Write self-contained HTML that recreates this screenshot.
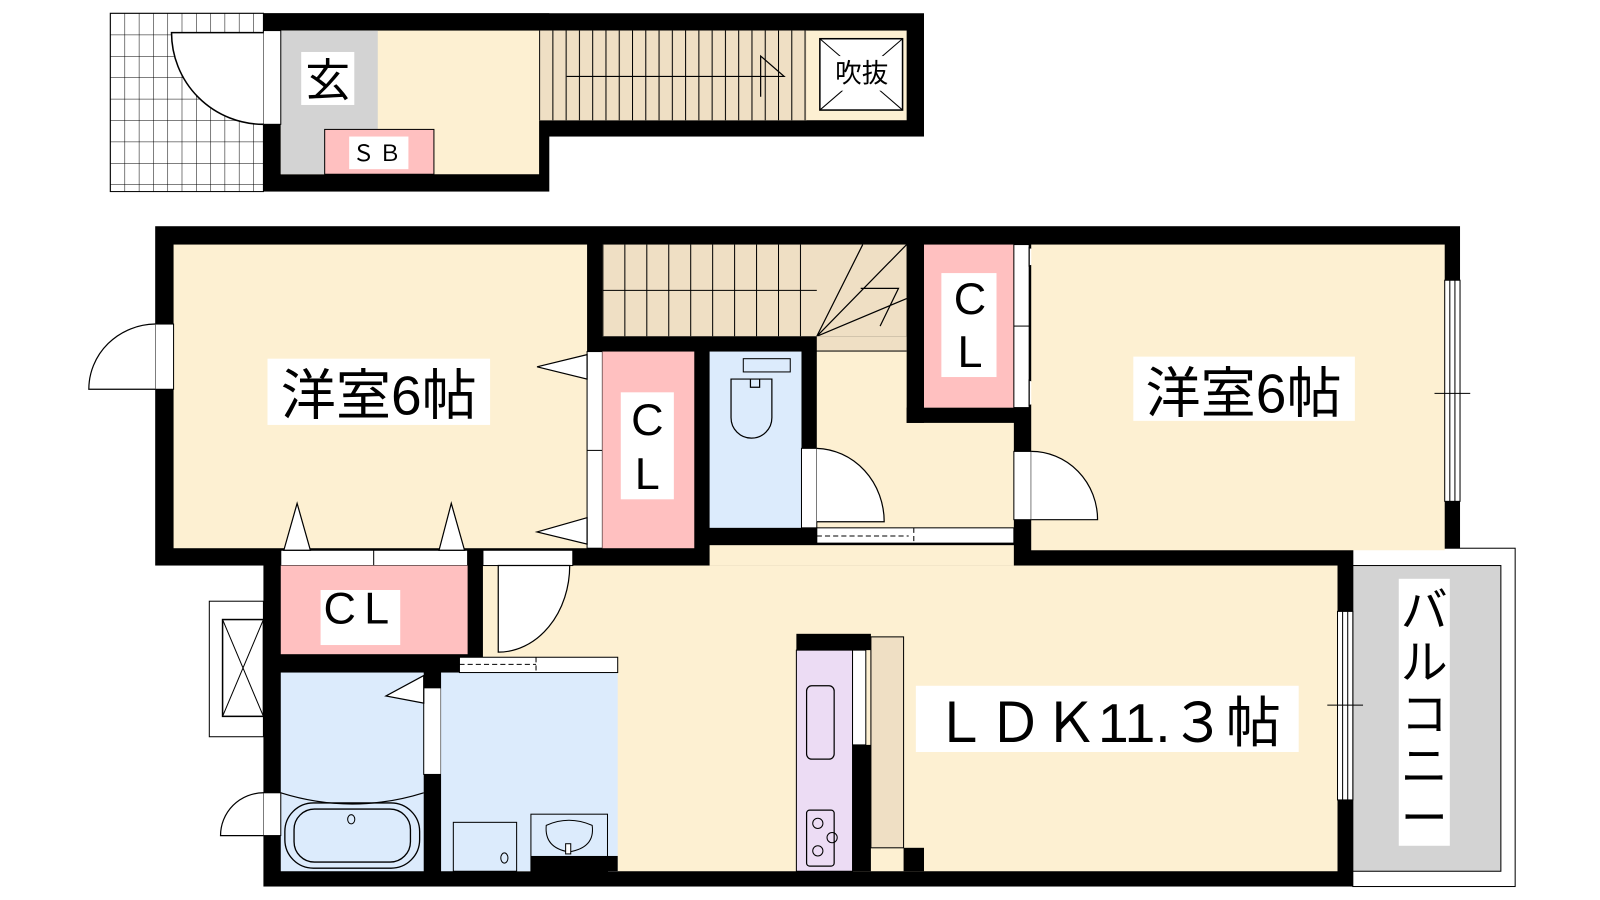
<!DOCTYPE html>
<html><head><meta charset="utf-8"><style>
html,body{margin:0;padding:0;background:#fff;width:1600px;height:900px;overflow:hidden}
svg{display:block}
text{font-family:"Liberation Sans","Noto Sans CJK JP",sans-serif;fill:#000}
</style></head><body>
<svg width="1600" height="900" viewBox="0 0 1600 900" xmlns="http://www.w3.org/2000/svg">
<defs>
<pattern id="grid" x="108" y="13" width="14" height="21" patternUnits="userSpaceOnUse">
<rect width="14" height="21" fill="#fff"/><path d="M0 0V21M0 0H14" stroke="#000" stroke-width="1"/>
</pattern>
<pattern id="stair" x="528" y="0" width="13" height="10" patternUnits="userSpaceOnUse">
<path d="M0.5 0V10" stroke="#000" stroke-width="1"/>
</pattern>
<pattern id="stair2" x="590" y="0" width="21.5" height="10" patternUnits="userSpaceOnUse">
<path d="M0.5 0V10" stroke="#000" stroke-width="1"/>
</pattern>
</defs>
<g transform="scale(1.021,1.019)">
<rect x="108" y="13" width="150" height="175" fill="url(#grid)" stroke="#000"/>
<rect x="258" y="13" width="647" height="121" fill="#000"/>
<rect x="258" y="13" width="280" height="175" fill="#000"/>
<rect x="275" y="30" width="253" height="141" fill="#fdf0d2"/>
<rect x="528" y="30" width="360" height="88" fill="#fdf0d2"/>
<rect x="275" y="30" width="95" height="141" fill="#d3d3d3"/>
<rect x="318" y="127" width="107" height="44" fill="#ffc0c0" stroke="#000"/>
<rect x="342" y="134" width="58" height="32" fill="#fff"/>
<text x="371" y="158" font-size="22" text-anchor="middle" letter-spacing="4">ＳＢ</text>
<rect x="295" y="51" width="52" height="52" fill="#fff"/>
<text x="321" y="94" font-size="44" text-anchor="middle">玄</text>
<rect x="528" y="30" width="262" height="88" fill="#efdfc4"/>
<rect x="528" y="30" width="262" height="88" fill="url(#stair)"/>
<path d="M555 75H768L745 55V95" fill="none" stroke="#000" stroke-width="1.2"/>
<rect x="803" y="38" width="81" height="70" fill="#fff" stroke="#000" stroke-width="1.5"/>
<path d="M803 38L884 108M884 38L803 108" stroke="#000"/>
<rect x="812" y="55" width="64" height="34" fill="#fff"/>
<text x="844" y="81" font-size="26" text-anchor="middle">吹抜</text>
<rect x="258" y="30" width="17" height="92" fill="#fff" stroke="#000"/>
<path d="M258 122A90 90 0 0 1 168 32H258" fill="#fff" stroke="#000" stroke-width="1.5"/>

<rect x="152" y="222" width="1278" height="333" fill="#000"/>
<rect x="258" y="540" width="1067" height="330" fill="#000"/>
<rect x="1325" y="538" width="159" height="332" fill="#fff" stroke="#000"/>
<rect x="1325" y="555" width="145" height="300" fill="#d3d3d3" stroke="#000"/>
<rect x="170" y="240" width="405" height="298" fill="#fdf0d2"/>
<rect x="590" y="240" width="298" height="90" fill="#efdfc4"/>
<rect x="590" y="240" width="210" height="90" fill="url(#stair2)"/>
<path d="M590 285H800" stroke="#000"/>
<path d="M800 330L845 240M800 330L888 240M800 330L888 293M843 283H880L862 320" fill="none" stroke="#000" stroke-width="1.2"/>
<rect x="800" y="330" width="88" height="14" fill="#efdfc4"/>
<rect x="800" y="345" width="193" height="173" fill="#fdf0d2"/>
<rect x="888" y="330" width="105" height="70" fill="#fdf0d2"/>
<rect x="888" y="240" width="17" height="175" fill="#000"/>
<rect x="888" y="400" width="122" height="15" fill="#000"/>
<rect x="575" y="345" width="15" height="193" fill="#fff" stroke="#000"/>
<path d="M575 442H590" stroke="#000"/>
<rect x="590" y="345" width="90" height="193" fill="#ffc0c0"/>
<rect x="608" y="385" width="52" height="105" fill="#fff"/>
<text x="634" y="427" font-size="44" text-anchor="middle">C</text>
<text x="634" y="480" font-size="44" text-anchor="middle">L</text>
<path d="M575 348L526 360L575 372Z M575 508L526 522L575 534Z" fill="#fff" stroke="#000" stroke-width="1.2"/>
<rect x="695" y="345" width="90" height="173" fill="#dcebfc"/>
<rect x="728" y="352" width="46" height="13" fill="#dcebfc" stroke="#000"/>
<path d="M716 372H756V410A20 20 0 0 1 716 410Z M735 372V380H744V372" fill="#dcebfc" stroke="#000" stroke-width="1.2"/>
<rect x="785" y="440" width="15" height="78" fill="#fff" stroke="#000"/>
<path d="M800 440A68 72 0 0 1 866 512H800" fill="#fff" stroke="#000" stroke-width="1.2"/>
<rect x="800" y="518" width="193" height="15" fill="#fff" stroke="#000"/>
<path d="M800 526H890M895 518V533" stroke="#000" stroke-dasharray="5 3"/>
<rect x="905" y="240" width="88" height="160" fill="#ffc0c0"/>
<rect x="922" y="268" width="54" height="102" fill="#fff"/>
<text x="950" y="308" font-size="44" text-anchor="middle">C</text>
<text x="950" y="360" font-size="44" text-anchor="middle">L</text>
<rect x="993" y="240" width="15" height="160" fill="#fff" stroke="#000"/>
<path d="M993 320H1008" stroke="#000"/>
<path d="M1008 243L1050 252L1008 261Z M1008 373L1050 386L1008 398Z" fill="#fff" stroke="#000" stroke-width="1.2"/>
<rect x="1010" y="240" width="405" height="300" fill="#fdf0d2"/>
<rect x="993" y="443" width="17" height="67" fill="#fff" stroke="#000"/>
<path d="M1010 443A65 67 0 0 1 1075 510H1010" fill="#fff" stroke="#000" stroke-width="1.2"/>
<rect x="1415" y="275" width="15" height="217" fill="#fff" stroke="#000"/>
<path d="M1420 275V492M1425 275V492M1405 386H1440" stroke="#000"/>
<rect x="473" y="555" width="837" height="300" fill="#fdf0d2"/>
<rect x="695" y="535" width="298" height="20" fill="#fdf0d2"/>
<rect x="1310" y="600" width="15" height="185" fill="#fff" stroke="#000"/>
<path d="M1315 600V785M1320 600V785M1300 692H1335" stroke="#000"/>
<rect x="853" y="625" width="32" height="207" fill="#efdfc4" stroke="#000"/>
<rect x="780" y="622" width="73" height="16" fill="#000"/>
<rect x="780" y="638" width="55" height="217" fill="#ecdcf4" stroke="#000"/>
<rect x="835" y="638" width="13" height="93" fill="#fff" stroke="#000"/>
<rect x="835" y="731" width="18" height="124" fill="#000"/>
<rect x="885" y="832" width="20" height="23" fill="#000"/>
<rect x="790" y="673" width="27" height="72" rx="5" fill="none" stroke="#000" stroke-width="1.2"/>
<rect x="790" y="795" width="27" height="55" rx="3" fill="none" stroke="#000" stroke-width="1.2"/>
<circle cx="801" cy="808" r="5" fill="none" stroke="#000"/><circle cx="815" cy="822" r="5" fill="none" stroke="#000"/><circle cx="801" cy="835" r="5" fill="none" stroke="#000"/>
<rect x="473" y="540" width="88" height="15" fill="#fff" stroke="#000"/>
<path d="M488 555V640A70 85 0 0 0 558 555Z" fill="#fff" stroke="#000" stroke-width="1.2"/>
<rect x="275" y="540" width="183" height="15" fill="#fff" stroke="#000"/>
<path d="M366 540V555" stroke="#000"/>
<path d="M278 540L291 494L304 540Z M430 540L442 494L455 540Z" fill="#fff" stroke="#000" stroke-width="1.2"/>
<rect x="275" y="555" width="183" height="87" fill="#ffc0c0"/>
<rect x="314" y="579" width="78" height="54" fill="#fff"/>
<text x="353" y="612" font-size="44" text-anchor="middle" letter-spacing="8">CL</text>
<rect x="275" y="660" width="140" height="195" fill="#dcebfc"/>
<path d="M275 778Q345 800 415 778" fill="none" stroke="#000" stroke-width="1.2"/>
<rect x="279" y="788" width="132" height="64" rx="28" fill="none" stroke="#000" stroke-width="1.3"/>
<rect x="288" y="794" width="114" height="52" rx="20" fill="none" stroke="#000" stroke-width="1.3"/>
<ellipse cx="344" cy="804" rx="3.5" ry="4.5" fill="none" stroke="#000"/>
<rect x="415" y="675" width="17" height="85" fill="#fff" stroke="#000"/>
<path d="M415 663L378 683L415 690Z" fill="#fff" stroke="#000" stroke-width="1.2"/>
<rect x="432" y="660" width="173" height="195" fill="#dcebfc"/>
<rect x="450" y="645" width="155" height="15" fill="#fff" stroke="#000"/>
<path d="M450 652H525M525 645V660" stroke="#000" stroke-dasharray="5 3"/>
<rect x="444" y="807" width="62" height="48" fill="none" stroke="#000"/>
<ellipse cx="494" cy="842" rx="3.5" ry="5" fill="none" stroke="#000"/>
<rect x="520" y="799" width="75" height="56" fill="#dcebfc" stroke="#000"/>
<path d="M535 810Q557 800 580 810Q583 832 557 836Q533 832 535 810Z" fill="none" stroke="#000"/>
<rect x="554" y="828" width="5" height="10" fill="#fff" stroke="#000"/>
<rect x="520" y="840" width="85" height="15" fill="#000"/>
<rect x="205" y="590" width="53" height="133" fill="#fff" stroke="#000"/>
<rect x="218" y="608" width="40" height="95" fill="#fff" stroke="#000" stroke-width="1.5"/>
<path d="M218 608L258 703M258 608L218 703" stroke="#000"/>
<rect x="152" y="318" width="18" height="64" fill="#fff" stroke="#000"/>
<path d="M152 318A66 64 0 0 0 87 382H152" fill="#fff" stroke="#000" stroke-width="1.2"/>
<rect x="258" y="778" width="17" height="42" fill="#fff" stroke="#000"/>
<path d="M258 778A42 42 0 0 0 216 820H258" fill="#fff" stroke="#000" stroke-width="1.2"/>

<rect x="262" y="352" width="218" height="65" fill="#fff"/>
<text x="371" y="407" font-size="54" text-anchor="middle">洋室6帖</text>
<rect x="1110" y="350" width="217" height="63" fill="#fff"/>
<text x="1218" y="405" font-size="54" text-anchor="middle">洋室6帖</text>
<rect x="897" y="673" width="375" height="65" fill="#fff"/>
<text x="1084" y="728" font-size="54" text-anchor="middle">ＬＤＫ11.３帖</text>
<rect x="1370" y="568" width="50" height="262" fill="#fff"/>
<text font-size="46" text-anchor="middle"><tspan x="1395" y="615">バ</tspan><tspan x="1395" y="666">ル</tspan><tspan x="1395" y="717">コ</tspan><tspan x="1395" y="768">ニ</tspan><tspan x="1395" y="819">ー</tspan></text>
</g>
</svg>
</body></html>
